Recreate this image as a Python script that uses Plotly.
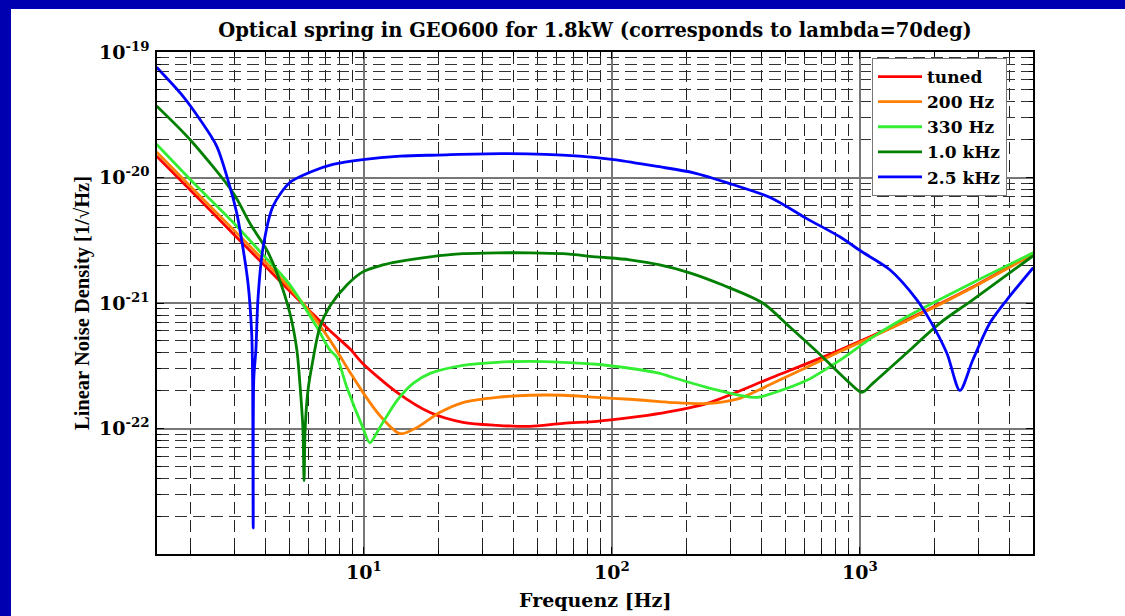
import plotly.graph_objects as go

# ---------------- data ----------------
freq_tuned = [1.46, 2, 3, 4, 5, 6, 7.3, 8.8, 9.9, 13.6, 18.5, 25.1, 34.4, 46.7, 63.5, 87,
              118, 156, 241, 445, 830, 1540, 2850, 5000]
nd_tuned = [1.48e-20, 7.9e-21, 3.5e-21, 1.97e-21, 1.26e-21, 8.8e-22, 6.0e-22, 4.3e-22, 3.3e-22,
            1.94e-22, 1.34e-22, 1.12e-22, 1.06e-22, 1.04e-22, 1.10e-22, 1.14e-22,
            1.22e-22, 1.32e-22, 1.58e-22, 2.56e-22, 4.21e-22, 7.31e-22, 1.34e-21, 2.51e-21]

freq_200 = [1.46, 2, 3, 4, 5, 6, 7.3, 8.8, 9.9, 11.6, 14.0, 16.4, 20.2, 25.1, 34.4, 46.7, 63.5,
            87, 118, 156, 175, 241, 328, 445, 611, 830, 1540, 2850, 5000]
nd_200 = [1.60e-20, 8.5e-21, 3.79e-21, 2.13e-21, 1.33e-21, 8.7e-22, 5.06e-22, 2.8e-22, 1.95e-22,
          1.27e-22, 9.1e-23, 1.02e-22, 1.34e-22, 1.61e-22, 1.77e-22, 1.84e-22, 1.84e-22,
          1.77e-22, 1.71e-22, 1.64e-22, 1.61e-22, 1.58e-22, 1.74e-22, 2.29e-22, 3.08e-22,
          4.1e-22, 7.2e-22, 1.33e-21, 2.45e-21]

freq_330 = [1.46, 2, 3, 3.9, 5, 6.46, 7.3, 7.78, 8.54, 9.9, 10.57, 11.6, 13.6, 15.8, 18.5, 25.1,
            34.4, 46.7, 63.5, 87, 118, 156, 175, 241, 328, 385, 445, 611, 830, 1127, 1540,
            2850, 5000]
nd_330 = [1.84e-20, 9.6e-21, 4.3e-21, 2.45e-21, 1.42e-21, 6.43e-22, 4.21e-22, 3.70e-22, 2.13e-22,
          1.02e-22, 7.7e-23, 1.02e-22, 1.67e-22, 2.29e-22, 2.75e-22, 3.19e-22, 3.37e-22,
          3.43e-22, 3.37e-22, 3.25e-22, 3.02e-22, 2.75e-22, 2.56e-22, 2.13e-22, 1.84e-22,
          1.77e-22, 1.91e-22, 2.42e-22, 3.50e-22, 5.35e-22, 7.73e-22, 1.45e-21, 2.51e-21]

freq_1k = [1.46, 1.99, 2.97, 3.5, 4.06, 4.46, 5.03, 5.37, 5.55, 5.68, 5.74, 5.80, 5.95, 6.23,
           6.65, 7.3, 8.54, 9.9, 11.9, 13.6, 18.5, 25.1, 34.4, 46.7, 63.5, 87, 118, 156, 206,
           280, 406, 522, 709, 886, 1019, 1127, 1540, 2102, 2850, 5000]
nd_1k = [3.72e-20, 2.01e-20, 7.55e-21, 4.2e-21, 2.65e-21, 1.74e-21, 8.32e-22, 4.21e-22, 2.0e-22,
         1.0e-22, 3.84e-23, 1.0e-22, 2.0e-22, 3.5e-22, 6.43e-22, 9.46e-22, 1.39e-21, 1.77e-21,
         2.01e-21, 2.13e-21, 2.33e-21, 2.47e-21, 2.51e-21, 2.51e-21, 2.47e-21, 2.33e-21,
         2.21e-21, 2.01e-21, 1.74e-21, 1.39e-21, 1.0e-21, 6.43e-22, 3.7e-22, 2.42e-22,
         1.94e-22, 2.29e-22, 3.98e-22, 6.92e-22, 1.06e-21, 2.38e-21]

freq_2k5 = [1.46, 1.86, 2.18, 2.55, 2.88, 3.07, 3.21, 3.41, 3.53, 3.56, 3.58, 3.60, 3.67, 3.74,
            3.91, 4.30, 5.03, 6.06, 7.5, 9.9, 14.0, 19.8, 36.4, 74, 102, 150, 214, 307, 437,
            611, 830, 1019, 1321, 1697, 1915, 2243, 2531, 2850, 3344, 3914, 5000]
nd_2k5 = [7.55e-20, 4.47e-20, 2.91e-20, 1.78e-20, 8.51e-21, 5.25e-21, 3.25e-21, 1.45e-21,
          5.75e-22, 2.5e-22, 1.61e-23, 2.5e-22, 4.21e-22, 1.06e-21, 2.65e-21, 5.89e-21,
          9.12e-21, 1.10e-20, 1.27e-20, 1.39e-20, 1.48e-20, 1.51e-20, 1.55e-20, 1.48e-20,
          1.39e-20, 1.23e-20, 1.09e-20, 8.79e-21, 6.89e-21, 4.7e-21, 3.37e-21, 2.56e-21,
          1.84e-21, 1.06e-21, 7.31e-22, 3.98e-22, 2.01e-22, 3.5e-22, 6.92e-22, 1.06e-21,
          1.91e-21]

series_names = ["tuned", "200 Hz", "330 Hz", "1.0 kHz", "2.5 kHz"]
series_colors = ["#FF0000", "#FF8000", "#33EE33", "#007F00", "#0000FF"]

x_tick_vals = [10, 100, 1000]
x_tick_text = ["10<sup>1</sup>", "10<sup>2</sup>", "10<sup>3</sup>"]
y_tick_vals = [1e-22, 1e-21, 1e-20, 1e-19]
y_tick_text = ["10<sup>-22</sup>", "10<sup>-21</sup>", "10<sup>-20</sup>", "10<sup>-19</sup>"]

title_text = "Optical spring in GEO600 for 1.8kW (corresponds to lambda=70deg)"
x_title = "Frequenz [Hz]"
y_title = "Linear Noise Density [1/√Hz]"

# ---------------- figure ----------------
WIDE = "DejaVu Serif"
TALL = "Liberation Serif"
fig = go.Figure()
for name, fx, vy, col in zip(series_names,
                             [freq_tuned, freq_200, freq_330, freq_1k, freq_2k5],
                             [nd_tuned, nd_200, nd_330, nd_1k, nd_2k5],
                             series_colors):
    fig.add_trace(go.Scatter(x=fx, y=vy, mode="lines", name=name,
                             line=dict(color=col, width=2.8, shape="spline", smoothing=0.8)))

x_minor = [k * 10 ** e for e in range(0, 4) for k in range(2, 10) if 1.46 < k * 10 ** e < 5000]
y_minor = [k * 10.0 ** e for e in range(-23, -19) for k in range(2, 10)]

axis_common = dict(
    type="log", showline=True, linecolor="black", linewidth=1.5, mirror="ticks",
    ticks="inside", ticklen=7, tickcolor="black", tickwidth=1,
    showgrid=True, gridcolor="#777777", gridwidth=1.5, zeroline=False,
    tickfont=dict(family=WIDE, size=19, color="black", weight="bold"),
)

fig.update_xaxes(**axis_common, range=[0.166, 3.698], tickmode="array",
                 tickvals=x_tick_vals, ticktext=x_tick_text,
                 minor=dict(tickmode="array", tickvals=x_minor, ticks="inside", ticklen=4,
                            tickcolor="black", showgrid=True, gridcolor="#222222",
                            gridwidth=1, griddash="12px,6px"))
fig.update_yaxes(**axis_common, range=[-23, -19], tickmode="array",
                 tickvals=y_tick_vals, ticktext=y_tick_text, ticklabelstandoff=2,
                 minor=dict(tickmode="array", tickvals=y_minor, ticks="inside", ticklen=4,
                            tickcolor="black", showgrid=True, gridcolor="#333333",
                            gridwidth=1, griddash="12px,6px"))

fig.update_layout(
    width=1125, height=616,
    margin=dict(l=157, r=92, t=52, b=62, autoexpand=False),
    paper_bgcolor="white", plot_bgcolor="white",
    title=dict(text=title_text, x=0.5, xref="paper", y=1 - 30 / 616, yref="container",
               xanchor="center", yanchor="middle",
               font=dict(family=WIDE, size=19.5, color="black", weight="bold")),
    showlegend=True,
    legend=dict(x=(872 - 157) / 876, y=1 - (58 - 52) / 502, xanchor="left", yanchor="top",
                bgcolor="white", bordercolor="#777777", borderwidth=1,
                font=dict(family=WIDE, size=17, color="black", weight="bold"),
                itemwidth=44, tracegroupgap=0),
    annotations=[
        dict(text=x_title, xref="paper", yref="paper", x=0.5, y=-(600 - 554) / 502,
             xanchor="center", yanchor="middle", showarrow=False,
             font=dict(family=WIDE, size=19, color="black", weight="bold")),
        dict(text=y_title, xref="paper", yref="paper", x=-(157 - 82) / 876, y=0.5,
             xanchor="center", yanchor="middle", showarrow=False, textangle=-90,
             font=dict(family=TALL, size=20.5, color="black", weight="bold")),
    ],
    shapes=[
        dict(type="rect", xref="paper", yref="paper", layer="above", line_width=0,
             fillcolor="#0000B0", x0=-157 / 876, x1=(11 - 157) / 876,
             y0=-62 / 502, y1=554 / 502),
        dict(type="rect", xref="paper", yref="paper", layer="above", line_width=0,
             fillcolor="#0000B0", x0=-157 / 876, x1=968 / 876,
             y0=(554 - 9) / 502, y1=554 / 502),
    ],
)

fig.write_html("out.html")
